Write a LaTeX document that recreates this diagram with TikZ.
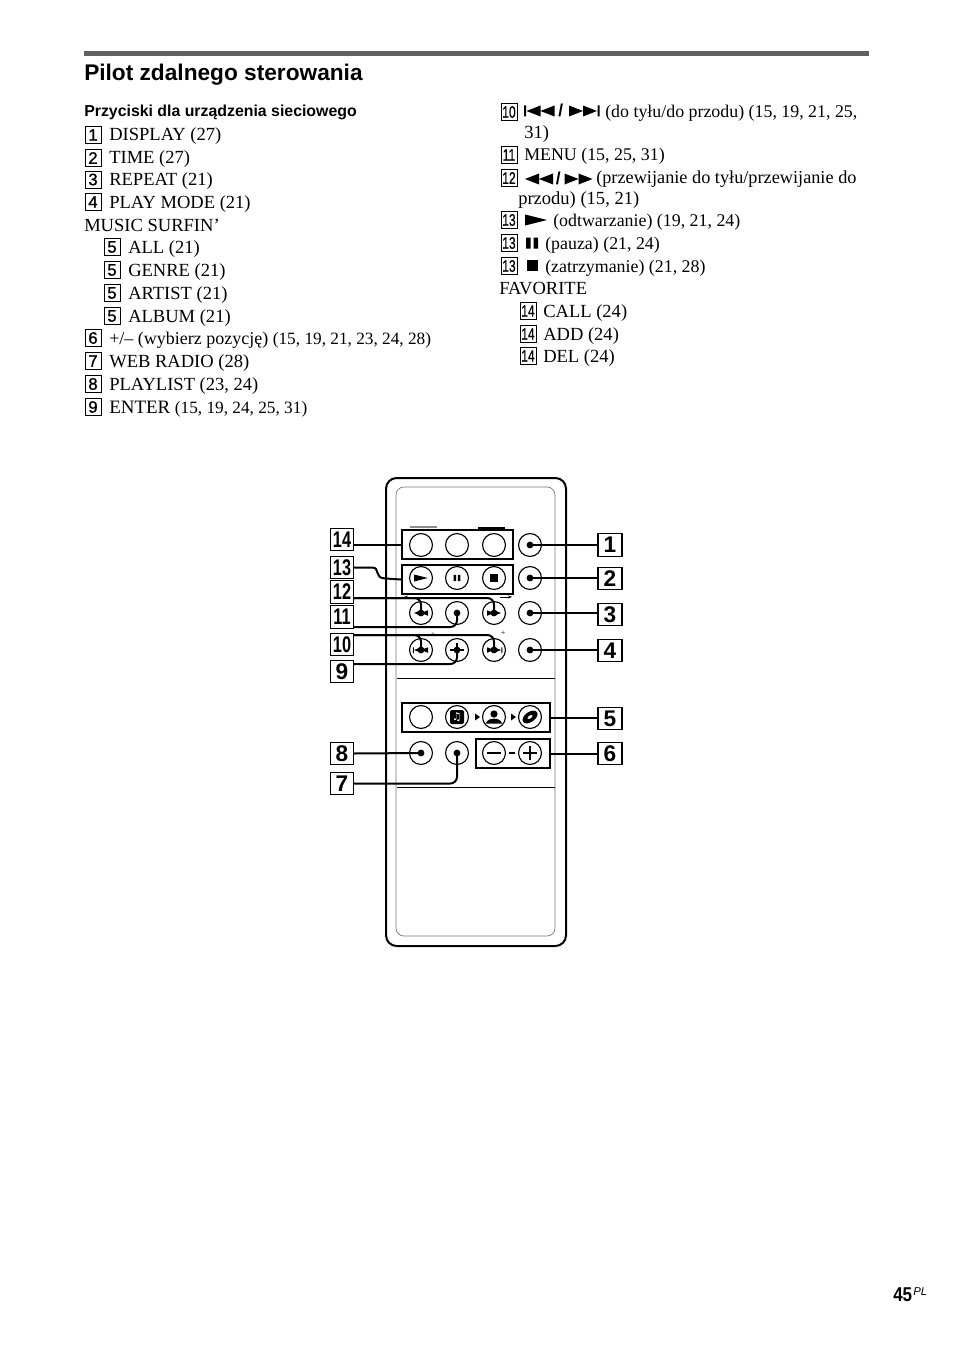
\documentclass[tikz,border=0pt]{standalone}
\usepackage{fontspec}
\setmainfont{Liberation Serif}
\setsansfont{Liberation Sans}
\newfontfamily\symbfont{DejaVu Sans}
\newfontfamily\numfont[FakeBold=1]{Liberation Sans}
\usetikzlibrary{arrows.meta}
\newcommand{\nn}[1]{\scalebox{.72}[1]{#1}}
\newcommand{\smtxt}{\fontsize{13.4}{16}\selectfont}
\newcommand{\listtxt}{\fontsize{12.95}{16}\selectfont}
\tikzset{
	item/.style={anchor=base west, inner sep=0pt, font=\fontsize{13.9}{16}\selectfont},
	numbox/.style={draw, line width=.6pt, inner sep=0pt, minimum width=12pt, minimum height=12.6pt, font=\numfont\fontsize{12.5}{13}\selectfont},
	bignum/.style={draw, line width=.8pt, fill=white, inner sep=0pt, minimum width=17pt, minimum height=17pt, font=\sffamily\bfseries\fontsize{17}{18}\selectfont},
	btn/.style={draw, circle, line width=.85pt, inner sep=0pt, minimum size=17.2pt},
	groupbox/.style={draw, line width=1.6pt, inner sep=0pt, minimum height=21.75pt},
	lead/.style={line width=1.5pt},
	leaddot/.style={lead, rounded corners=5pt, -{Circle[length=5pt]}, shorten >=-2.5pt},
	twoleft/.pic={\fill (-14,0) -- (0,-5.5) -- (0,5.5) -- cycle (0,0) -- (14,-5.5) -- (14,5.5) -- cycle;},
	tworight/.pic={\fill (14,0) -- (0,-5.5) -- (0,5.5) -- cycle (0,0) -- (-14,-5.5) -- (-14,5.5) -- cycle;},
	prevglyph/.pic={\fill (-14,0) -- (0,-5.5) -- (0,5.5) -- cycle (0,0) -- (14,-5.5) -- (14,5.5) -- cycle (-16.5,-5.5) rectangle (-14.5,5.5);},
	nextglyph/.pic={\fill (14,0) -- (0,-5.5) -- (0,5.5) -- cycle (0,0) -- (-14,-5.5) -- (-14,5.5) -- cycle (16.5,-5.5) rectangle (14.5,5.5);},
	pauseglyph/.pic={\fill (-6,-5.5) rectangle (-1.5,5.5) (1.5,-5.5) rectangle (6,5.5);},
	playglyph/.pic={\fill (-11,-5.5) -- (11,0) -- (-11,5.5) -- cycle;},
}
\begin{document}
\begin{tikzpicture}[x=.75pt, y=-.75pt]
	\useasboundingbox (0,0) rectangle (954,1352);
	\fill[black!62] (84,51) rectangle (869,56);
	\node[item, font=\sffamily\bfseries\fontsize{17}{20}\selectfont] (title) at (84,81) {Pilot zdalnego sterowania};
	\node[item, font=\sffamily\bfseries\fontsize{11.9}{14}\selectfont] (heading) at (84,117) {Przyciski dla urządzenia sieciowego};
	% left column
	\foreach \bx/\tx/\yb/\num/\txt [count=\k] in {
		93/109/141/1/{DISPLAY (27)}, 93/109/164/2/{TIME (27)}, 93/109/185.5/3/{REPEAT (21)}, 93/109/208/4/{PLAY MODE (21)},
		112/128/253/5/{ALL (21)}, 112/128/276/5/{GENRE (21)}, 112/128/299/5/{ARTIST (21)}, 112/128/322/5/{ALBUM (21)},
		93/109/344/6/{\fontsize{13.5}{16}\selectfont +/– (wybierz pozycję) {\listtxt (15, 19, 21, 23, 24, 28)}}, 93/109/367/7/{WEB RADIO (28)},
		93/109/390/8/{PLAYLIST (23, 24)}, 93/109/413/9/{{\fontsize{14.2}{16}\selectfont ENTER} {\listtxt (15, 19, 24, 25, 31)}}} {
		\node[numbox] (num\k) at (\bx,\yb-6) {\num};
		\node[item] (txt\k) at (\tx,\yb) {\txt};
	}
	\node[item] (surfin) at (84,231) {MUSIC SURFIN’};
	% right column
	\foreach \bx/\tx/\yb/\num/\txt [count=\k] in {
		509/605/118/\nn{10}/{\smtxt (do tyłu/do przodu) (15, 19, 21, 25,}, 509/524/161/\nn{11}/{\smtxt MENU (15, 25, 31)},
		509/596/184/\nn{12}/{\fontsize{13.7}{16}\selectfont (przewijanie do tyłu/przewijanie do}, 509/553/226/\nn{13}/{\smtxt (odtwarzanie) (19, 21, 24)},
		509/545/249/\nn{13}/{\smtxt (pauza) (21, 24)}, 509/545/272/\nn{13}/{\smtxt (zatrzymanie) (21, 28)},
		528/543/317/\nn{14}/{CALL (24)}, 528/543/340/\nn{14}/{ADD (24)}, 528/543/362/\nn{14}/{DEL (24)}} {
		\node[numbox] (rnum\k) at (\bx,\yb-6) {\num};
		\node[item] (rtxt\k) at (\tx,\yb) {\txt};
	}
	\node[item] (cont1) at (524,139) {31)};
	\node[item] (cont2) at (518,204.5) {przodu) (15, 21)};
	\node[item] (favorite) at (499,294) {FAVORITE};
	% glyphs in the text
	\pic at (540.5,111) {prevglyph};
	\node[item, font=\sffamily\bfseries\fontsize{13}{14}\selectfont] (slash1) at (558,117) {/};
	\pic at (583,111) {nextglyph};
	\pic at (539,179) {twoleft};
	\node[item, font=\sffamily\bfseries\fontsize{13}{14}\selectfont] (slash2) at (555.5,185) {/};
	\pic at (578.5,179) {tworight};
	\pic at (536,220) {playglyph};
	\pic at (532,243) {pauseglyph};
	\fill (527,260) rectangle (538,271);
	% remote
	\draw[line width=1.5pt, rounded corners=8pt] (386,478) rectangle (566,946);
	\draw[black!55, line width=.5pt, rounded corners=6pt] (396,487) rectangle (555,936);
	\draw[line width=.5pt] (397,678) -- (555,678) (397,787) -- (555,787);
	\draw[black!45, line width=1pt] (410,527) -- (437,527);
	\draw[line width=1pt] (478,528) -- (505,528);
	\node[groupbox, minimum width=83.25pt] (favbox) at (457.5,544.5) {};
	\node[groupbox, minimum width=83.25pt] (playbox) at (457.5,579.5) {};
	\node[groupbox, minimum width=111pt] (surfbox) at (476,717.5) {};
	\node[groupbox, minimum width=55.5pt] (volbox) at (513,753.5) {};
	\foreach \r/\yy in {1/545,2/578,3/613,4/650,5/717,6/753}
		\foreach \c/\xx in {1/421,2/457,3/494,4/530}
			\node[btn] (b\r\c) at (\xx,\yy) {};
	% button faces
	\pic[scale=.62] at (b21) {playglyph};
	\pic[scale=.55] at (b22) {pauseglyph};
	\fill ([shift={(-4,-4)}]b23.center) rectangle ([shift={(4,4)}]b23.center);
	\pic[scale=.5] at (b31) {twoleft};
	\pic[scale=.5] at (b33) {tworight};
	\pic[scale=.5] at (b41) {prevglyph};
	\pic[scale=.5] at (b43) {nextglyph};
	\draw[line width=1pt] ([shift={(-7,0)}]b42.center) -- ([shift={(7,0)}]b42.center) ([shift={(0,-7)}]b42.center) -- ([shift={(0,7)}]b42.center);
	\fill[rounded corners=1.5pt] ([shift={(-7,-7)}]b52.center) rectangle ([shift={(7,7)}]b52.center);
	\node[inner sep=0pt, text=white, font=\symbfont\fontsize{8}{8}\selectfont] (notes) at (b52) {♫};
	\fill ([shift={(0,-3)}]b53.center) circle (3.6);
	\fill ([shift={(-8,6.5)}]b53.center) .. controls ([shift={(-7,0)}]b53.center) and ([shift={(7,0)}]b53.center) .. ([shift={(8,6.5)}]b53.center) -- cycle;
	\fill[rotate around={35:(b54)}, even odd rule] (b54) ellipse (8.5 and 5) (b54) ellipse (3 and 1.5);
	\fill ([shift={(-19,-3.5)}]b53.center) -- ++(5,3.5) -- ++(-5,3.5) -- cycle;
	\fill ([shift={(-19,-3.5)}]b54.center) -- ++(5,3.5) -- ++(-5,3.5) -- cycle;
	\draw[line width=.9pt] ([shift={(-7,0)}]b63.center) -- ([shift={(7,0)}]b63.center);
	\draw[line width=.9pt] ([shift={(-7,0)}]b64.center) -- ([shift={(7,0)}]b64.center) ([shift={(0,-7)}]b64.center) -- ([shift={(0,7)}]b64.center);
	\draw[line width=.9pt] ([shift={(-15.5,0)}]b64.center) -- ([shift={(-21,0)}]b64.center);
	\draw[line width=.5pt, -{Stealth[length=3pt]}] (411,597) -- (404,597);
	\draw[line width=.5pt, -{Stealth[length=3pt]}] (500,597) -- (512,597);
	\node[inner sep=0pt, font=\fontsize{6}{6}\selectfont] (minus) at (433,634) {-};
	\node[inner sep=0pt, font=\fontsize{6}{6}\selectfont] (plus) at (503,633) {+};
	% callouts
	\foreach \n/\yy in {1/545,2/578.5,3/614.5,4/650.5,5/718.5,6/753.5}
		\node[bignum, minimum width=18pt] (r\n) at (610,\yy) {\n};
	\node[bignum] (l14) at (342,539.5) {\nn{14}};
	\node[bignum] (l13) at (342,567.5) {\nn{13}};
	\node[bignum] (l12) at (342,592) {\nn{12}};
	\node[bignum] (l11) at (342,617) {\nn{11}};
	\node[bignum] (l10) at (342,644.5) {\nn{10}};
	\node[bignum] (l9) at (342,671.5) {9};
	\node[bignum] (l8) at (342,753.5) {8};
	\node[bignum] (l7) at (342,783.5) {7};
	\foreach \n/\bt in {1/b14,2/b24,3/b34,4/b44}
		\draw[lead, {Circle[length=5pt]}-, shorten <=-2.5pt] (\bt.center) -- (\bt.center -| r\n.west);
	\draw[lead] (surfbox.east) -- (surfbox.east -| r5.west);
	\draw[lead] (volbox.east) -- (volbox.east -| r6.west);
	\draw[lead] (favbox.west -| l14.east) -- (favbox.west);
	\draw[lead] (l13.east) -- (372,567.5) .. controls (381,567.5) and (373,578.5) .. (386,578.5) -- (playbox.west);
	\draw[leaddot] (l12.east) ++(0,6) -| (b31.center);
	\draw[leaddot] (l12.east) ++(0,6) -| (b33.center);
	\draw[leaddot] (l11.east) ++(0,10) -| (b32.center);
	\draw[leaddot] (l10.east) ++(0,-9.5) -| (b41.center);
	\draw[leaddot] (l10.east) ++(0,-9.5) -| (b43.center);
	\draw[leaddot] (l9.east) ++(0,-7.5) -| (b42.center);
	\draw[leaddot] (l8.east) -- (b61.center);
	\draw[leaddot] (l7.east) -| (b62.center);
	% page number
	\node[item, font=\sffamily\bfseries\fontsize{15}{16}\selectfont] (page) at (893,1301) {\scalebox{.85}[1]{45}};
	\node[item, font=\sffamily\itshape\fontsize{8.5}{9}\selectfont] (pagepl) at (913,1295) {PL};
\end{tikzpicture}
\end{document}
